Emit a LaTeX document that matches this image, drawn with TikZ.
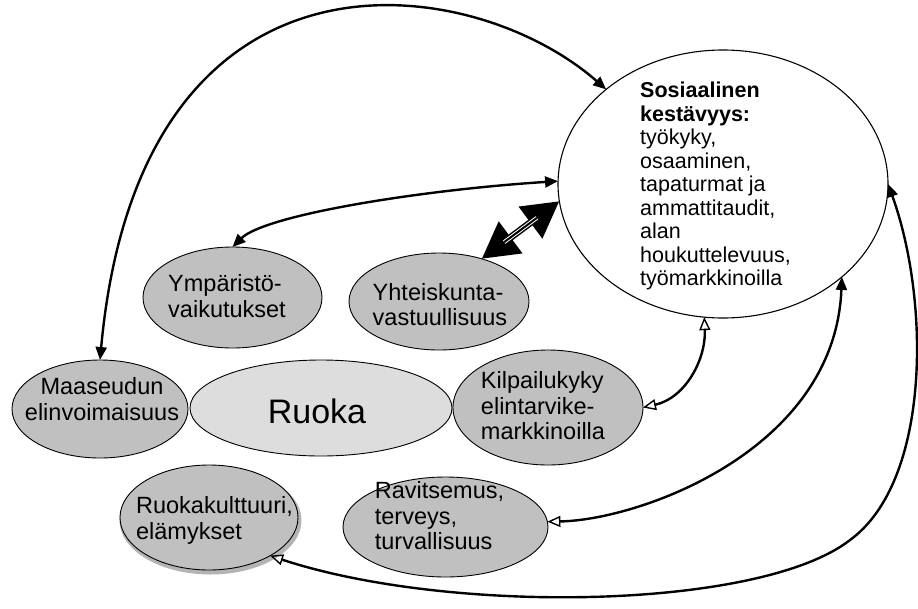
\documentclass[tikz,border=0pt]{standalone}
\usepackage{fontspec}
\setmainfont{Liberation Sans}
\usetikzlibrary{shapes.geometric, arrows.meta}
\definecolor{nodegray}{HTML}{C0C0C0}
\definecolor{foodgray}{HTML}{DDDDDD}
\definecolor{shadowgray}{HTML}{B4B4B4}
\tikzset{
  blob/.style={ellipse, draw=black, line width=0.9pt, fill=nodegray, inner sep=0pt, outer sep=0pt},
  lbl/.style={align=left, inner sep=0pt, font=\fontsize{23.5}{25.5}\selectfont},
  link/.style={line width=2.4pt, line cap=round},
  filltip/.tip={Triangle[length=13pt,width=11pt]},
  opentip/.tip={Triangle[open,length=13pt,width=11pt,line width=1.4pt]},
  bigtip/.tip={Triangle[length=36pt,width=38pt]}
}
\begin{document}
\begin{tikzpicture}[x=1pt, y=-1pt]
\useasboundingbox (0,0) rectangle (918,608);
% big ellipse
\node[blob, fill=white, line width=1.1pt, minimum width=330pt, minimum height=268pt] (soc) at (723,184) {};
\node[lbl, anchor=north west, font=\fontsize{21.5}{23.5}\selectfont] (soct) at (640,82)
  {\textbf{Sosiaalinen}\\\textbf{kestävyys:}\\työkyky,\\osaaminen,\\tapaturmat ja\\ammattitaudit,\\alan\\houkuttelevuus,\\työmarkkinoilla};
% small ellipses
\node[blob, minimum width=179pt, minimum height=101pt] (ymp) at (232.5,297.5) {};
\node[lbl] (ympt) at (227,296) {Ympäristö-\\vaikutukset};
\node[blob, minimum width=180pt, minimum height=97pt] (yht) at (439,301.5) {};
\node[lbl] (yhtt) at (440,304.5) {Yhteiskunta-\\vastuullisuus};
\node[blob, minimum width=176pt, minimum height=98pt] (maa) at (100,409) {};
\node[lbl, align=center] (maat) at (102,399) {Maaseudun\\elinvoimaisuus};
\node[blob, fill=foodgray, minimum width=262pt, minimum height=96pt] (ruoka) at (321,408) {};
\node[inner sep=0pt, font=\fontsize{34}{38}\selectfont] (ruokat) at (317,411) {Ruoka};
\node[blob, minimum width=190pt, minimum height=115pt] (kil) at (548,407.5) {};
\node[lbl] (kilt) at (543,406) {Kilpailukyky\\elintarvike-\\markkinoilla};
\fill[shadowgray] (210.5,520.5) ellipse [x radius=91pt, y radius=54pt];
\node[blob, minimum width=178pt, minimum height=105pt] (kult) at (209,517.5) {};
\node[lbl] (kultt) at (214.5,520.5) {Ruokakulttuuri,\\elämykset};
\node[blob, minimum width=205pt, minimum height=100pt] (rav) at (445.5,527) {};
\node[lbl] (ravt) at (439.5,516) {Ravitsemus,\\terveys,\\turvallisuus};
% connectors
\draw[link, filltip-filltip] (maa.north) .. controls (140,-75) and (470,-30) .. (soc.141);
\draw[link, filltip-filltip] (ymp.north) .. controls (265,215) and (420,190) .. (soc.179);
\draw[line width=7pt, bigtip-bigtip] (yht.45) -- (soc.186);
\draw[white, line width=1pt, double=black, double distance=2pt, shorten <=28pt, shorten >=28pt] (yht.45) -- (soc.186);
\draw[link, opentip-opentip] (kil.east) .. controls (685,398) and (706,360) .. (soc.262);
\draw[link, opentip-filltip] (rav.3) .. controls (640,520) and (835,450) .. (soc.322);
\coordinate (bend) at (850,540);
\draw[link, opentip-filltip] (kult.328) .. controls (450,615) and (760,610) .. (bend) .. controls (931,481) and (930,300) .. (soc.east);
\end{tikzpicture}
\end{document}
